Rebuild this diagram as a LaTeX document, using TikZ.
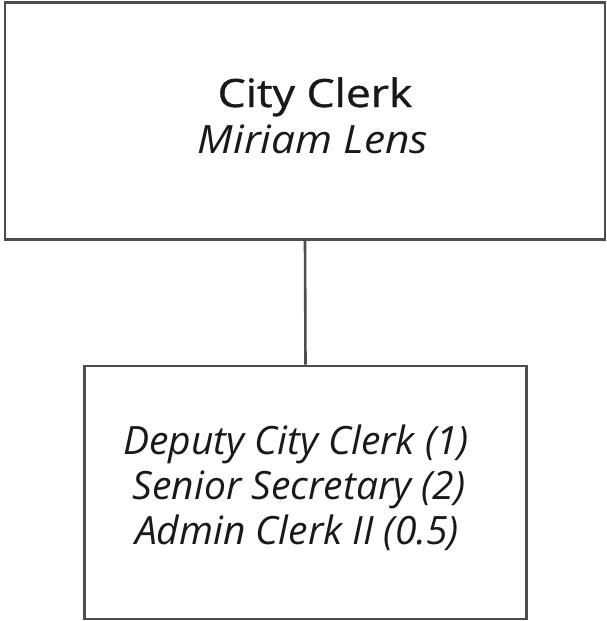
\documentclass[tikz,border=0pt]{standalone}
\usepackage{fontspec}
\setmainfont{Open Sans}
\newfontfamily\titlefont{Open Sans}[FakeStretch=1.14,FakeBold=0.9]
\newfontfamily\namefont{Open Sans}[FakeStretch=1.09]
\begin{document}
\begin{tikzpicture}[x=1pt,y=-1pt,
  orgbox/.style={draw=boxgray,line width=2.6pt,fill=white,inner sep=0pt},
  link/.style={draw=boxgray,line width=2.6pt},
  lbl/.style={align=center,text=black!90,inner sep=0pt,anchor=base}]
\definecolor{boxgray}{HTML}{4D4D4D}
\useasboundingbox (0,0) rectangle (607,621);
% boxes
\node[orgbox,minimum width=600pt,minimum height=237pt] (clerk) at (305,121) {};
\node[orgbox,minimum width=442pt,minimum height=253pt] (staff) at (305.5,492.5) {};
% connector
\draw[link] (clerk.south) -- (staff.north);
% labels
\node[lbl,font=\titlefont\fontsize{39}{45}\selectfont] (t1) at (315,107) {City Clerk};
\node[lbl,font=\namefont\fontsize{39}{45}\itshape] (t2) at (313,153) {Miriam Lens};
\node[lbl,font=\fontsize{39}{45}\itshape] (s1) at (296,454) {Deputy City Clerk (1)};
\node[lbl,font=\fontsize{39}{45}\itshape] (s2) at (299,499) {Senior Secretary (2)};
\node[lbl,font=\fontsize{39}{45}\itshape] (s3) at (297,544) {Admin Clerk II (0.5)};
\end{tikzpicture}
\end{document}
